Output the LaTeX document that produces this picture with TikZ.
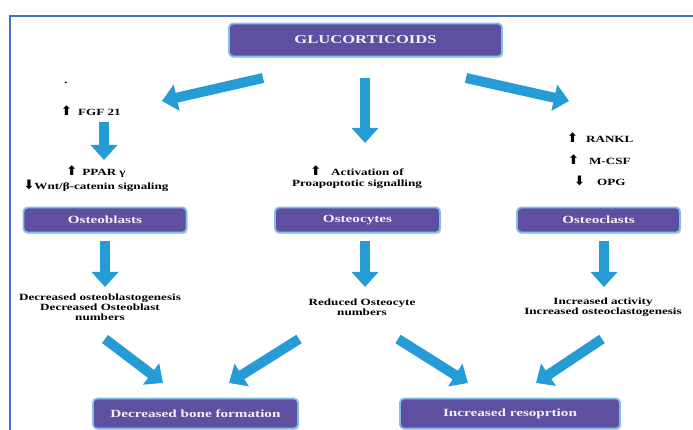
\documentclass[tikz,border=0pt]{standalone}
\usepackage{fontspec}
\setmainfont{Liberation Serif}[FakeStretch=1.38]
\newfontfamily\symf{DejaVu Sans}
\usetikzlibrary{arrows.meta,shadows}
\definecolor{boxfill}{RGB}{94,79,160}
\definecolor{boxedge}{RGB}{130,190,232}
\definecolor{arrowblue}{RGB}{38,156,214}
\definecolor{framecol}{RGB}{68,114,196}
\definecolor{boxtext}{RGB}{242,240,248}
\newcommand{\upa}{{\symf\bfseries\fontsize{13}{13}\selectfont ⬆}}
\newcommand{\dna}{{\symf\bfseries\fontsize{13}{13}\selectfont ⬇}}
\tikzset{
  purplebox/.style={draw=boxedge, line width=1.8pt, fill=boxfill, rounded corners=4pt,
    text=boxtext, font=\fontsize{11}{12}\selectfont\bfseries, inner sep=0pt,
    drop shadow={shadow xshift=1.2pt, shadow yshift=-1.5pt, opacity=0.35}},
  smalltext/.style={font=\fontsize{9.5}{10}\selectfont\bfseries, align=center, inner sep=0pt},
  bigarrow/.style={draw=arrowblue, line width=10pt, -{Triangle[width=26pt,length=15pt]}},
}
\begin{document}
\begin{tikzpicture}[x=1pt,y=-1pt]
\useasboundingbox (0,0) rectangle (693,430);
% frame
\coordinate (fr0) at (10,430);
\coordinate (fr1) at (10,16.5);
\coordinate (fr2) at (693,16.5);
\draw[framecol, line width=2pt] (fr0) -- (fr1) -- (fr2);

% boxes
\node[purplebox, minimum width=273pt, minimum height=33pt, font=\fontsize{12}{13}\selectfont\bfseries] (gluc) at (365.5,40) {GLUCORTICOIDS};
\node[purplebox, minimum width=163pt, minimum height=25pt] (obl) at (105,220) {Osteoblasts};
\node[purplebox, minimum width=165pt, minimum height=25pt] (ocy) at (357.5,220) {Osteocytes};
\node[purplebox, minimum width=163pt, minimum height=25pt] (ocl) at (598.5,220) {Osteoclasts};
\node[purplebox, minimum width=205pt, minimum height=30pt] (dbf) at (195.5,413.5) {Decreased bone formation};
\node[purplebox, minimum width=220pt, minimum height=30pt] (ires) at (510,413.5) {Increased resoprtion};

% texts
\node[smalltext, anchor=base] (dot) at (66,84) {.};
\node[smalltext, anchor=west] (fgf) at (61,111) {\upa\hspace{6pt}FGF 21};
\node[smalltext] (ppar) at (96,178.5) {\upa\hspace{5pt}PPAR γ\\[1pt]\dna Wnt/β-catenin signaling};
\node[smalltext] (act) at (357,177.5) {\upa\hspace{10pt}Activation of\\[1pt]Proapoptotic signalling};
\node[smalltext, anchor=west] (rankl) at (567,138) {\upa\hspace{8pt}RANKL};
\node[smalltext, anchor=west] (mcsf) at (568,159.5) {\upa\hspace{10pt}M-CSF};
\node[smalltext, anchor=west] (opg) at (574,180.5) {\dna\hspace{12pt}OPG};
\node[smalltext] (obtxt) at (100,307.5) {Decreased osteoblastogenesis\\Decreased Osteoblast\\numbers};
\node[smalltext] (ocytxt) at (362,307.5) {Reduced Osteocyte\\numbers};
\node[smalltext] (ocltxt) at (603,307.5) {Increased activity\\Increased osteoclastogenesis};

% arrow end points
\coordinate (a1s) at (263,78);   \coordinate (a1e) at (162,101);
\coordinate (a2s) at (365,78);   \coordinate (a2e) at (365,143);
\coordinate (a3s) at (466,78);   \coordinate (a3e) at (569,101);
\coordinate (a4s) at (104,122);  \coordinate (a4e) at (104,160);
\coordinate (b1s) at (105,241);  \coordinate (b1e) at (105,287);
\coordinate (b2s) at (365,241);  \coordinate (b2e) at (365,287);
\coordinate (b3s) at (604,241);  \coordinate (b3e) at (604,287);
\coordinate (c1s) at (105,339);  \coordinate (c1e) at (163,383);
\coordinate (c2s) at (299,339);  \coordinate (c2e) at (229,383);
\coordinate (c3s) at (398,339);  \coordinate (c3e) at (468,383);
\coordinate (c4s) at (602,339);  \coordinate (c4e) at (536,383);

\foreach \s/\e in {a1s/a1e,a2s/a2e,a3s/a3e,a4s/a4e,b1s/b1e,b2s/b2e,b3s/b3e,c1s/c1e,c2s/c2e,c3s/c3e,c4s/c4e}
  \draw[bigarrow] (\s) -- (\e);
\end{tikzpicture}
\end{document}
